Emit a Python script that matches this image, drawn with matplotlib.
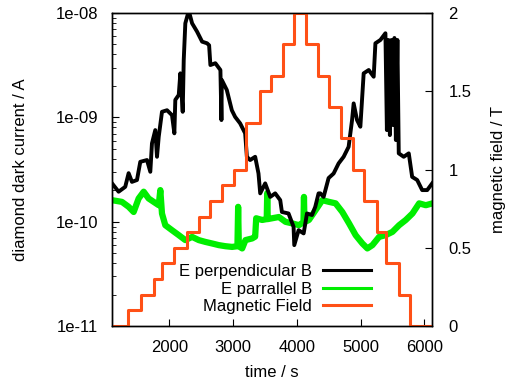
import numpy as np
import matplotlib
matplotlib.use("Agg")
import matplotlib.pyplot as plt
from matplotlib.ticker import FixedLocator, FuncFormatter, LogLocator, NullFormatter

# current, E perpendicular B (time / s, current / A)
t_perp = [1100, 1205, 1309, 1362, 1414, 1493, 1545, 1650, 1702, 1728, 1780, 1807, 1834,
          1885, 1964, 2042, 2079, 2094, 2148, 2173, 2210, 2226, 2251, 2305, 2357, 2435,
          2514, 2592, 2624, 2644, 2722, 2801, 2817, 2823, 2901, 2980, 3032, 3110, 3189,
          3216, 3267, 3346, 3398, 3425, 3503, 3582, 3660, 3739, 3765, 3869, 3948, 3959,
          4027, 4106, 4158, 4237, 4288, 4340, 4367, 4419, 4497, 4576, 4654, 4733, 4811,
          4865, 4890, 4943, 4995, 5047, 5126, 5204, 5231, 5309, 5388, 5411, 5435, 5458,
          5482, 5505, 5529, 5552, 5576, 5597, 5675, 5754, 5807, 5886, 5964, 6043, 6121]
i_perp = [2.34e-10, 1.94e-10, 2.16e-10, 2.92e-10, 2.41e-10, 2.51e-10, 3.75e-10, 3.90e-10,
          3.01e-10, 5.63e-10, 7.55e-10, 4.19e-10, 6.52e-10, 1.13e-9, 1.17e-9, 1.05e-9,
          7.03e-10, 1.47e-9, 1.64e-9, 2.64e-9, 1.13e-9, 3.54e-9, 7.96e-9, 1.05e-8, 7.96e-9,
          6.62e-9, 5.31e-9, 5.12e-9, 4.90e-9, 3.17e-9, 3.30e-9, 2.84e-9, 9.42e-10, 2.28e-9,
          1.83e-9, 1.17e-9, 1.01e-9, 8.76e-10, 7.03e-10, 4.19e-10, 3.90e-10, 4.19e-10,
          2.90e-10, 1.87e-10, 2.33e-10, 1.73e-10, 1.87e-10, 1.61e-10, 1.24e-10, 1.20e-10,
          8.94e-11, 5.97e-11, 8.30e-11, 7.73e-11, 1.20e-10, 1.16e-10, 1.39e-10, 1.87e-10,
          1.87e-10, 1.73e-10, 2.62e-10, 2.90e-10, 3.62e-10, 4.19e-10, 5.22e-10, 9.42e-10,
          1.36e-9, 9.42e-10, 8.13e-10, 2.64e-9, 2.84e-9, 2.45e-9, 5.12e-9, 5.51e-9, 6.39e-9,
          7.55e-10, 5.51e-9, 6.76e-10, 5.51e-9, 8.44e-10, 5.76e-9, 6.06e-10, 5.51e-9,
          4.52e-10, 4.19e-10, 4.52e-10, 2.69e-10, 2.51e-10, 2.01e-10, 2.01e-10, 2.33e-10]

# current, E parallel B
t_par = [1100, 1257, 1362, 1441, 1519, 1598, 1676, 1755, 1834, 1859, 1885, 1937, 2042,
         2148, 2251, 2357, 2462, 2565, 2671, 2776, 2880, 2985, 3068, 3079, 3090, 3142,
         3194, 3299, 3346, 3362, 3456, 3527, 3535, 3543, 3613, 3718, 3822, 3927, 4032,
         4103, 4111, 4119, 4189, 4293, 4398, 4504, 4607, 4712, 4818, 4921, 5027, 5105,
         5184, 5289, 5392, 5498, 5603, 5707, 5812, 5917, 6021, 6126]
i_par = [1.61e-10, 1.55e-10, 1.39e-10, 1.24e-10, 1.67e-10, 1.94e-10, 1.67e-10, 1.55e-10,
         1.44e-10, 2.01e-10, 1.20e-10, 9.27e-11, 8.30e-11, 7.44e-11, 6.67e-11, 7.16e-11,
         6.67e-11, 6.41e-11, 6.19e-11, 5.97e-11, 5.83e-11, 5.74e-11, 5.83e-11, 1.39e-10,
         5.83e-11, 5.55e-11, 6.67e-11, 6.92e-11, 7.20e-11, 1.08e-10, 1.04e-10, 1.06e-10,
         1.88e-10, 1.06e-10, 1.08e-10, 1.11e-10, 9.98e-11, 9.64e-11, 9.27e-11, 9.90e-11,
         1.73e-10, 9.90e-11, 1.04e-10, 1.29e-10, 1.61e-10, 1.55e-10, 1.50e-10, 1.24e-10,
         9.64e-11, 7.44e-11, 6.19e-11, 5.55e-11, 5.97e-11, 7.16e-11, 7.44e-11, 8.00e-11,
         9.27e-11, 1.04e-10, 1.20e-10, 1.50e-10, 1.44e-10, 1.50e-10]

# magnetic field steps (start time of each step / s, field / T)
t_field = [1100, 1347, 1556, 1755, 1891, 2079, 2283, 2471, 2639, 2832, 3021, 3205, 3414,
           3597, 3781, 3958, 4142, 4324, 4497, 4692, 4874, 5058, 5257, 5403, 5597, 5770, 6126]
b_field = [0, 0.1, 0.2, 0.3, 0.4, 0.5, 0.6, 0.7, 0.8, 0.9, 1.0, 1.3, 1.5, 1.6, 1.8, 2.0,
           1.8, 1.6, 1.4, 1.2, 1.0, 0.8, 0.6, 0.4, 0.2, 0, 0]

plt.rcParams['font.family'] = ['Liberation Sans', 'DejaVu Sans']
plt.rcParams['font.size'] = 12

fig = plt.figure(figsize=(5.11, 3.81), dpi=100)
ax = fig.add_axes([0.219, 0.144, 0.626, 0.822])

ax.plot(t_par, i_par, color='#00ee00', lw=4.5, label='E parrallel B', zorder=2,
        solid_joinstyle='round')
ax.plot(t_perp, i_perp, color='black', lw=2.8, label='E perpendicular B', zorder=3,
        solid_joinstyle='round')
ax.set_yscale('log')
ax.set_ylim(1e-11, 1e-8)
ax.set_xlim(1100, 6115)
ax.set_xticks([2000, 3000, 4000, 5000, 6000])
ax.yaxis.set_major_locator(FixedLocator([1e-11, 1e-10, 1e-9, 1e-8]))
ax.yaxis.set_major_formatter(FuncFormatter(lambda v, p: "1e-%02d" % round(-np.log10(v))))
ax.yaxis.set_minor_locator(LogLocator(base=10, subs=np.arange(2, 10)))
ax.yaxis.set_minor_formatter(NullFormatter())
ax.tick_params(direction='in', which='major', length=5, top=False, pad=10)
ax.tick_params(direction='in', which='minor', length=3)
ax.set_xlabel('time / s', labelpad=7)
ax.set_ylabel('diamond dark current / A', labelpad=20)

ax2 = ax.twinx()
ax2.plot(t_field, b_field, color='#ff5016', lw=2.2, drawstyle='steps-post',
         label='Magnetic Field')
ax2.set_ylim(0, 2)
ax2.set_yticks([0, 0.5, 1, 1.5, 2])
ax2.set_yticklabels(['0', '0.5', '1', '1.5', '2'])
ax2.tick_params(direction='in', length=5, pad=12)
ax2.set_ylabel('magnetic field / T', labelpad=14)

for a in (ax, ax2):
    for s in a.spines.values():
        s.set_linewidth(1.0)

h1, l1 = ax.get_legend_handles_labels()
h2, l2 = ax2.get_legend_handles_labels()
handles = [h1[1], h1[0], h2[0]]
labels = [l1[1], l1[0], l2[0]]
leg = ax2.legend(handles, labels, loc='lower center', bbox_to_anchor=(0.51, -0.01),
                 frameon=False, markerfirst=False, handlelength=2.9,
                 labelspacing=0.15, handletextpad=0.66)
for ln in leg.get_lines():
    ln.set_linewidth(2.2)

fig.savefig('out.png', dpi=100)
